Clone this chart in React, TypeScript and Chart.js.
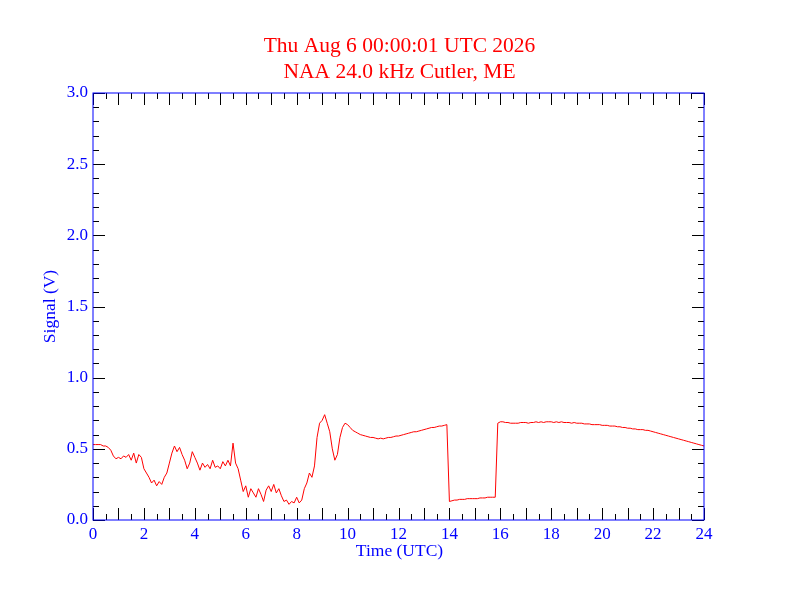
import React, { useEffect, useRef } from "react";
import { Chart, registerables } from "chart.js";
Chart.register(...registerables);

const titleLines = ["Thu Aug 6 00:00:01 UTC 2026", "NAA 24.0 kHz Cutler, ME"];
const xAxisTitle = "Time (UTC)";
const yAxisTitle = "Signal (V)";
const xTickLabels = [0, 2, 4, 6, 8, 10, 12, 14, 16, 18, 20, 22, 24];
const yTickLabels = ["0.0", "0.5", "1.0", "1.5", "2.0", "2.5", "3.0"];
const stepHours = 0.1;
const signal = [
  0.53, 0.53, 0.53, 0.53, 0.52, 0.52, 0.51, 0.49, 0.45, 0.43,
  0.44, 0.43, 0.45, 0.44, 0.46, 0.42, 0.47, 0.40, 0.46, 0.44,
  0.36, 0.33, 0.30, 0.26, 0.28, 0.24, 0.27, 0.25, 0.30, 0.33,
  0.40, 0.47, 0.52, 0.48, 0.51, 0.46, 0.42, 0.36, 0.40, 0.48,
  0.44, 0.40, 0.35, 0.40, 0.37, 0.39, 0.36, 0.42, 0.37, 0.38,
  0.36, 0.41, 0.38, 0.42, 0.38, 0.54, 0.40, 0.36, 0.28, 0.20,
  0.24, 0.16, 0.22, 0.19, 0.16, 0.22, 0.18, 0.13, 0.21, 0.24,
  0.20, 0.25, 0.19, 0.22, 0.17, 0.13, 0.14, 0.11, 0.13, 0.12,
  0.16, 0.12, 0.14, 0.22, 0.26, 0.33, 0.30, 0.38, 0.58, 0.68,
  0.70, 0.74, 0.68, 0.62, 0.50, 0.42, 0.46, 0.58, 0.65, 0.68,
  0.67, 0.65, 0.63, 0.62, 0.61, 0.60, 0.595, 0.59, 0.585, 0.58,
  0.58, 0.575, 0.57, 0.575, 0.57, 0.575, 0.58, 0.58, 0.585, 0.59,
  0.59, 0.595, 0.60, 0.605, 0.61, 0.615, 0.62, 0.62, 0.625, 0.63,
  0.635, 0.64, 0.645, 0.65, 0.65, 0.655, 0.66, 0.66, 0.665, 0.67,
  0.13, 0.135, 0.14, 0.14, 0.145, 0.145, 0.145, 0.15, 0.15, 0.15,
  0.15, 0.15, 0.155, 0.155, 0.155, 0.16, 0.16, 0.16, 0.16, 0.68,
  0.69, 0.69, 0.685, 0.685, 0.68, 0.68, 0.68, 0.68, 0.685, 0.685,
  0.685, 0.68, 0.685, 0.685, 0.69, 0.685, 0.69, 0.685, 0.69, 0.69,
  0.69, 0.685, 0.69, 0.685, 0.69, 0.685, 0.685, 0.685, 0.68, 0.685,
  0.68, 0.68, 0.68, 0.675, 0.675, 0.675, 0.67, 0.67, 0.67, 0.67,
  0.665, 0.665, 0.665, 0.66, 0.66, 0.66, 0.655, 0.655, 0.65, 0.65,
  0.645, 0.645, 0.64, 0.64, 0.635, 0.635, 0.635, 0.63, 0.63, 0.625,
  0.62, 0.615, 0.61, 0.605, 0.60, 0.595, 0.59, 0.585, 0.58, 0.575,
  0.57, 0.565, 0.56, 0.555, 0.55, 0.545, 0.54, 0.535, 0.53, 0.525,
  0.52,
];

const BLUE = "#0000ff";
const RED = "#ff0000";
const FONT = "'Liberation Serif', 'Times New Roman', serif";

const frame = {
  id: "frame",
  afterDraw(chart: any) {
    const { ctx, chartArea: a, scales } = chart;
    const x = scales.x, y = scales.y;
    ctx.save();
    ctx.strokeStyle = "#000";
    ctx.lineWidth = 1;
    ctx.beginPath();
    for (let i = 0; i <= 48; i++) {
      const px = Math.round(x.getPixelForValue(i * 0.5)) + 0.5;
      const len = i % 2 === 0 ? 12 : 6;
      ctx.moveTo(px, a.bottom); ctx.lineTo(px, a.bottom - len);
      ctx.moveTo(px, a.top); ctx.lineTo(px, a.top + len);
    }
    for (let i = 0; i <= 30; i++) {
      const py = Math.round(y.getPixelForValue(i * 0.1)) + 0.5;
      const len = i % 5 === 0 ? 12 : 6;
      ctx.moveTo(a.left, py); ctx.lineTo(a.left + len, py);
      ctx.moveTo(a.right, py); ctx.lineTo(a.right - len, py);
    }
    ctx.stroke();
    ctx.strokeStyle = BLUE;
    ctx.strokeRect(a.left, a.top, a.right - a.left, a.bottom - a.top);
    const cx = (a.left + a.right) / 2 + 1;
    ctx.fillStyle = RED;
    ctx.font = "21.5px " + FONT;
    ctx.textAlign = "center";
    ctx.textBaseline = "alphabetic";
    ctx.fillText(titleLines[0], cx, 52);
    ctx.fillText(titleLines[1], cx, 78);
    ctx.fillStyle = BLUE;
    ctx.font = "17.5px " + FONT;
    ctx.fillText(xAxisTitle, cx, 556);
    ctx.translate(55, (a.top + a.bottom) / 2);
    ctx.rotate(-Math.PI / 2);
    ctx.fillText(yAxisTitle, 0, 0);
    ctx.restore();
  },
};

export default function App() {
  const ref = useRef<HTMLCanvasElement>(null);
  useEffect(() => {
    document.body.style.margin = "0";
    const data = signal.map((v, i) => ({ x: i * stepHours, y: v }));
    const chart = new Chart(ref.current!, {
      type: "line",
      data: { datasets: [{ data, borderColor: RED, borderWidth: 1, pointRadius: 0, tension: 0 }] },
      plugins: [frame],
      options: {
        animation: false,
        responsive: false,
        layout: { padding: { top: 93, right: 88, left: 0, bottom: 0 } },
        plugins: { legend: { display: false }, tooltip: { enabled: false } },
        scales: {
          x: {
            type: "linear", min: 0, max: 24,
            afterBuildTicks: (s: any) => { s.ticks = xTickLabels.map((v) => ({ value: v })); },
            afterFit: (s: any) => { s.height = 92; },
            grid: { display: false, drawTicks: false },
            border: { display: false },
            ticks: { color: BLUE, font: { family: FONT, size: 17 }, padding: 4, maxRotation: 0, callback: (v: any) => String(v) },
          },
          y: {
            type: "linear", min: 0, max: 3,
            afterBuildTicks: (s: any) => { s.ticks = yTickLabels.map((v) => ({ value: parseFloat(v) })); },
            afterFit: (s: any) => { s.width = 93; },
            grid: { display: false, drawTicks: false },
            border: { display: false },
            ticks: { color: BLUE, font: { family: FONT, size: 17 }, padding: 5, callback: (v: any) => Number(v).toFixed(1) },
          },
        },
      },
    });
    return () => chart.destroy();
  }, []);
  return <canvas ref={ref} width={792} height={612} style={{ display: "block" }} />;
}
